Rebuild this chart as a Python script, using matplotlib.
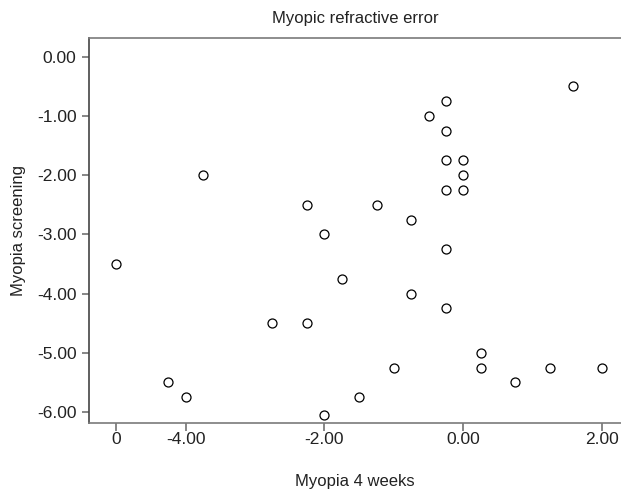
import numpy as np
import matplotlib.pyplot as plt

plt.rcParams['font.family'] = ['Liberation Sans', 'DejaVu Sans']

# Myopia 4 weeks (x) vs Myopia screening (y)
myopia_4w = [-5.00, -4.25, -4.00, -3.75, -2.75, -2.25, -2.25, -2.00, -2.00, -1.75,
             -1.50, -1.25, -1.00, -0.75, -0.75, -0.50, -0.25, -0.25, -0.25, -0.25,
             -0.25, -0.25, 0.00, 0.00, 0.00, 0.25, 0.25, 0.75, 1.25, 1.58, 2.00]
myopia_screen = [-3.50, -5.50, -5.75, -2.00, -4.50, -2.50, -4.50, -3.00, -6.05, -3.75,
                 -5.75, -2.50, -5.25, -2.75, -4.00, -1.00, -0.75, -1.25, -1.75, -2.25,
                 -3.25, -4.25, -1.75, -2.00, -2.25, -5.00, -5.25, -5.50, -5.25, -0.50, -5.25]

x_ticks = [-5, -4, -2, 0, 2]
x_ticklabels = ["0", "-4.00", "-2.00", "0.00", "2.00"]
y_ticks = [0, -1, -2, -3, -4, -5, -6]
y_ticklabels = ["0.00", "-1.00", "-2.00", "-3.00", "-4.00", "-5.00", "-6.00"]

fig = plt.figure(figsize=(6.21, 4.92), dpi=100)
ax = fig.add_axes([89 / 621, 69.3 / 492, 1 - 89 / 621, (422.7 - 38) / 492])

ax.scatter(myopia_4w, myopia_screen, s=42, facecolors='white', edgecolors='black',
           linewidths=0.9, zorder=3)

ax.set_xlim(-5.39, 2.27)
ax.set_ylim(-6.18, 0.316)
ax.set_xticks(x_ticks)
ax.set_xticklabels(x_ticklabels)
ax.set_yticks(y_ticks)
ax.set_yticklabels(y_ticklabels)

ax.spines['right'].set_visible(False)
ax.spines['top'].set_color('#7a7a7a')
ax.spines['bottom'].set_color('#7a7a7a')
ax.spines['left'].set_color('#444444')
for s in ax.spines.values():
    s.set_linewidth(1.2)

ax.tick_params(axis='x', length=6, width=1.1, color='#666666', labelsize=12.5,
               labelcolor='#222222', pad=1)
ax.tick_params(axis='y', length=5, width=1.1, color='#666666', labelsize=12.5,
               labelcolor='#222222', pad=4)

ax.set_title("Myopic refractive error", fontsize=12, color='#222222', pad=11)
ax.set_xlabel("Myopia 4 weeks", fontsize=12, color='#222222', labelpad=19)
ax.set_ylabel("Myopia screening", fontsize=12, color='#222222', labelpad=8)

fig.savefig("out.png", dpi=100)
